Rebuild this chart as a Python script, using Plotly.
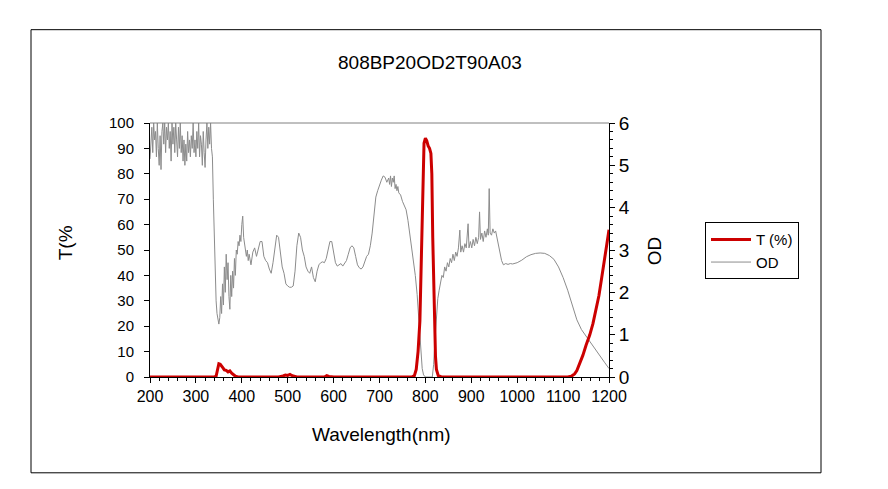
import plotly.graph_objects as go

# ---------------- data ----------------
t_wl = [200, 340, 344, 347, 350, 353, 356, 359, 362, 366, 370, 374, 378, 382, 386, 392,
        480, 490, 495, 500, 505, 510, 515, 520, 580, 585, 590, 600,
        770, 776, 780, 784, 788, 791, 794, 797, 800, 803, 806, 809, 812, 814, 816, 818,
        820, 822, 824, 828, 835,
        1110, 1118, 1125, 1130, 1136, 1143, 1150, 1158, 1165, 1172, 1178, 1184, 1190, 1195, 1200]
t_val = [0, 0, 0.3, 3, 5.2, 5.0, 4.0, 3.6, 2.8, 2.6, 2.0, 2.4, 1.5, 0.8, 0.3, 0,
         0, 0.4, 0.8, 0.6, 1.0, 0.5, 0.2, 0, 0, 0.5, 0.2, 0,
         0, 0.5, 3, 10, 22, 48, 80, 92, 94, 93, 91, 90, 88, 80, 55, 35,
         20, 8, 3, 0.5, 0,
         0, 0.3, 1.2, 2.5, 5.2, 8.5, 12.5, 16.5, 21, 27, 32, 39, 47, 52, 58]

od_wl = [200, 202, 204, 206, 208, 210, 212, 214, 216, 218, 220, 222, 224, 226, 228, 230,
         232, 234, 236, 238, 240, 242, 244, 246, 248, 250, 252, 254, 256, 258, 260, 262,
         264, 266, 268, 270, 272, 274, 276, 278, 280, 282, 284, 286, 288, 290, 292, 294,
         296, 298, 300, 302, 304, 306, 308, 310, 312, 314, 316, 318, 320, 322, 324, 326,
         328, 330, 332, 334, 336, 338, 340, 342, 344, 346, 348, 350, 352, 354, 356, 358,
         360, 362, 364, 366, 368, 370, 372, 374, 376, 378, 380, 382, 384, 386, 388, 390,
         392, 394, 396, 398, 400, 402, 404, 406, 408, 410, 412, 414, 416, 418, 420, 424,
         428, 432, 436, 440, 444, 448, 452, 456, 460, 464, 468, 472, 476, 480, 484, 488,
         492, 496, 500, 504, 508, 512, 516, 520, 524, 528, 532, 536, 540, 544, 548, 552,
         556, 560, 564, 568, 572, 576, 580, 584, 588, 592, 596, 600, 604, 608, 612, 616,
         620, 624, 628, 632, 636, 640, 644, 648, 652, 656, 660, 664, 668, 672, 676, 680,
         684, 688, 692, 696, 700, 704, 708, 712, 716, 720, 722, 724, 726, 728, 730, 732,
         734, 736, 738, 740, 742, 746, 750, 754, 758, 762, 766, 770, 774, 778, 782, 786,
         790, 793, 796, 800, 815, 818, 821, 824, 827, 830, 833, 836, 839, 842, 845, 848,
         851, 854, 857, 860, 863, 866, 869, 872, 875, 877, 880, 883, 886, 889, 893, 895,
         898, 901, 904, 907, 910, 913, 916, 918, 920, 923, 926, 929, 932, 935, 937, 939,
         941, 944, 947, 950, 953, 956, 959, 962, 966, 970, 975, 980, 985, 990, 995, 1000,
         1010, 1020, 1030, 1040, 1050, 1060, 1070, 1080, 1090, 1100, 1110, 1120, 1130, 1140,
         1150, 1160, 1170, 1180, 1190, 1200]
od_val = [5.15, 5.5, 5.9, 5.3, 6.0, 5.6, 5.8, 5.2, 6.0, 5.4, 5.0, 5.7, 4.9, 5.8, 6.0, 5.5,
          6.0, 5.3, 5.9, 5.6, 6.0, 5.4, 5.8, 5.1, 6.0, 5.5, 5.9, 5.3, 6.0, 5.6, 5.2, 5.9,
          5.4, 6.0, 5.3, 5.7, 5.1, 5.6, 5.0, 5.5, 5.1, 5.8, 5.3, 5.6, 5.2, 5.7, 5.4, 6.0,
          5.3, 5.6, 5.2, 5.8, 5.4, 6.0, 5.2, 5.7, 5.5, 5.0, 5.8, 5.3, 4.95, 5.6, 6.0, 5.4,
          5.9, 5.5, 6.0, 5.4, 5.2, 4.2, 3.3, 2.5, 1.8, 1.5, 1.3, 1.25, 1.4, 1.9, 1.5, 2.2,
          1.7, 2.6, 2.0, 2.9, 2.3, 2.7, 1.9, 1.6, 2.4, 1.9, 2.5, 2.1, 2.8, 2.4, 3.0, 2.9,
          3.2, 3.1, 3.35, 3.2, 3.6, 3.8, 3.3, 3.1, 2.9, 2.85, 3.0, 2.75, 2.9, 2.7, 2.65, 2.95,
          3.05, 2.85, 3.0, 3.2, 3.2, 2.85, 2.75, 2.7, 2.55, 2.45, 2.7, 3.1, 3.35, 3.3, 2.9, 2.6,
          2.45, 2.2, 2.15, 2.12, 2.12, 2.15, 2.5, 3.1, 3.4, 3.3, 3.0, 2.85, 2.6, 2.5, 2.45, 2.6,
          2.35, 2.25, 2.5, 2.65, 2.7, 2.72, 2.7, 2.8, 3.0, 3.2, 3.2, 2.9, 2.7, 2.62, 2.65, 2.68,
          2.62, 2.7, 2.75, 2.9, 3.05, 3.1, 3.05, 2.85, 2.65, 2.58, 2.55, 2.6, 2.75, 2.85, 2.9, 3.1,
          3.4, 3.9, 4.25, 4.4, 4.55, 4.65, 4.75, 4.72, 4.6, 4.7, 4.55, 4.75, 4.5, 4.7, 4.6, 4.75,
          4.45, 4.55, 4.4, 4.5, 4.35, 4.3, 4.15, 4.05, 3.95, 3.7, 3.4, 3.1, 2.8, 2.4, 1.95, 1.3,
          0.55, 0.2, 0.05, 0, 0, 0.3, 0.9, 1.5, 1.85, 2.05, 2.2, 2.4, 2.35, 2.6, 2.5, 2.7,
          2.6, 2.8, 2.7, 2.9, 2.75, 2.95, 2.85, 3.05, 3.47, 2.95, 3.1, 2.95, 3.15, 3.05, 3.62, 3.05,
          3.2, 3.05, 3.25, 3.1, 3.3, 3.15, 3.3, 3.9, 3.25, 3.4, 3.2, 3.45, 3.3, 3.5, 3.35, 4.45,
          3.4, 3.35, 3.5, 3.4, 3.45, 3.3, 3.15, 3.0, 2.75, 2.65, 2.68, 2.66, 2.68, 2.67, 2.68, 2.7,
          2.76, 2.84, 2.89, 2.92, 2.93, 2.92, 2.87, 2.78, 2.6, 2.35, 2.05, 1.7, 1.35, 1.12,
          0.96, 0.82, 0.66, 0.5, 0.35, 0.2]

x_ticks = [200, 300, 400, 500, 600, 700, 800, 900, 1000, 1100, 1200]
t_ticks = [0, 10, 20, 30, 40, 50, 60, 70, 80, 90, 100]
od_ticks = [0, 1, 2, 3, 4, 5, 6]

title_text = "808BP20OD2T90A03"
x_title = "Wavelength(nm)"
t_title = "T(%"
od_title = "OD"

# ---------------- figure ----------------
FONT = "Liberation Sans, Arial, sans-serif"
OFF = 8                      # page body margin of the html page
W, H = 888 - OFF, 489 - OFF
L, R, T, B = 150 - OFF, 609 - OFF, 122.5 - OFF, 377 - OFF

def px(x):
    return (x - OFF - L) / (R - L)

def py(y):
    return (B - (y - OFF)) / (B - T)

fig = go.Figure()
fig.add_trace(go.Scatter(x=od_wl, y=od_val, name="OD", mode="lines",
                         line=dict(color="#8c8c8c", width=1), yaxis="y",
                         legendrank=2))
fig.add_trace(go.Scatter(x=t_wl, y=t_val, name="T (%)", mode="lines",
                         line=dict(color="#cc0000", width=3), yaxis="y2",
                         legendrank=1))

fig.update_layout(
    width=W, height=H,
    margin=dict(l=L, r=W - R, t=T, b=H - B, pad=0),
    paper_bgcolor="white", plot_bgcolor="white",
    font=dict(family=FONT, size=15, color="black"),
    showlegend=True,
    legend=dict(x=px(705), y=py(222), xanchor="left", yanchor="top",
                bordercolor="black", borderwidth=1, bgcolor="white",
                font=dict(family=FONT, size=15, color="black"),
                itemwidth=40, tracegroupgap=0),
    xaxis=dict(range=[200, 1200], tickmode="array", tickvals=x_ticks,
               ticks="outside", ticklen=5, tickcolor="black",
               showline=True, linecolor="black", linewidth=1,
               showgrid=False, zeroline=False,
               minor=dict(dtick=20, ticks="outside", ticklen=3, tickcolor="black"),
               tickfont=dict(size=16)),
    yaxis=dict(range=[0, 6], side="right", tickmode="array", tickvals=od_ticks,
               ticks="outside", ticklen=5, tickcolor="black",
               showline=True, linecolor="black", linewidth=1,
               showgrid=False, zeroline=False,
               minor=dict(dtick=0.2, ticks="outside", ticklen=3, tickcolor="black"),
               tickfont=dict(size=19)),
    yaxis2=dict(range=[0, 100], side="left", overlaying="y", anchor="x",
                tickmode="array", tickvals=t_ticks,
                ticks="outside", ticklen=5, tickcolor="black",
                ticklabelstandoff=7,
                showline=True, linecolor="black", linewidth=1,
                showgrid=False, zeroline=False, tickfont=dict(size=15)),
    shapes=[
        dict(type="rect", xref="paper", yref="paper",
             x0=px(31), x1=px(821), y0=py(473), y1=py(29),
             line=dict(color="black", width=1), fillcolor="rgba(0,0,0,0)",
             layer="below"),
        dict(type="line", xref="paper", yref="paper",
             x0=0, x1=1, y0=1, y1=1, line=dict(color="#808080", width=1)),
    ],
    annotations=[
        dict(text=title_text, xref="paper", yref="paper", x=px(430), y=py(62),
             showarrow=False, font=dict(family=FONT, size=19, color="black"),
             xanchor="center", yanchor="middle"),
        dict(text=x_title, xref="paper", yref="paper", x=px(381), y=py(435),
             showarrow=False, font=dict(family=FONT, size=19, color="black"),
             xanchor="center", yanchor="middle"),
        dict(text=t_title, xref="paper", yref="paper", x=px(65), y=py(243),
             showarrow=False, textangle=-90,
             font=dict(family=FONT, size=19, color="black"),
             xanchor="center", yanchor="middle"),
        dict(text=od_title, xref="paper", yref="paper", x=px(654), y=py(251),
             showarrow=False, textangle=-90,
             font=dict(family=FONT, size=19, color="black"),
             xanchor="center", yanchor="middle"),
    ],
)

fig.write_html("out.html")
